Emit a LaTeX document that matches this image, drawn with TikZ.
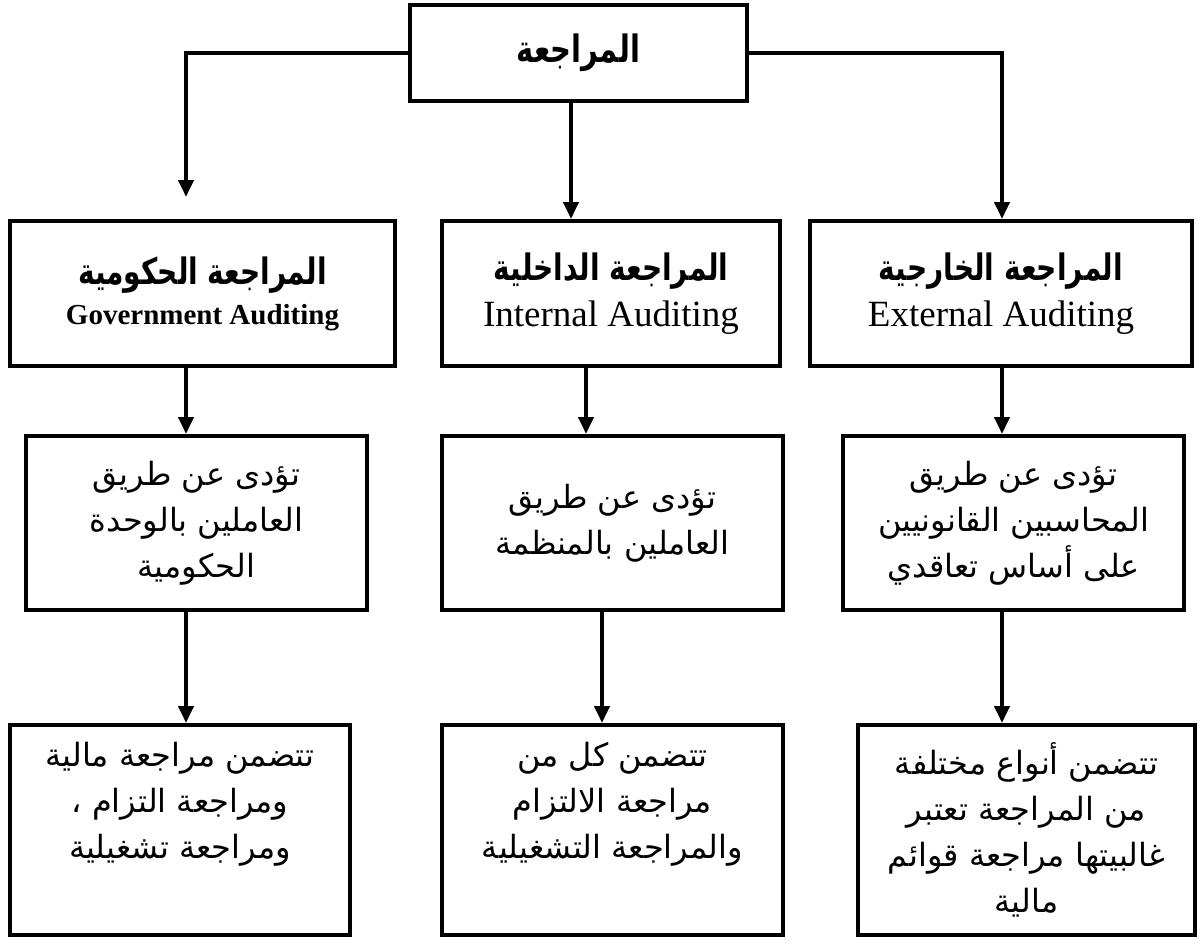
\documentclass[tikz,border=0pt]{standalone}
\usepackage{graphicx}
\usepackage{fontspec}
\setmainfont{Liberation Serif}
\newfontfamily\arabicfont[Script=Arabic]{DejaVu Sans}
\TeXXeTstate=1
\usetikzlibrary{arrows.meta}
% one right-to-left Arabic line
\newcommand{\ar}[1]{{\arabicfont\beginR #1\endR}}
% tall bold Arabic heading
\newcommand{\arhead}[1]{\scalebox{1}[1.3]{\bfseries\ar{#1}}}

\begin{document}
\begin{tikzpicture}[x=1pt,y=-1pt,
  box/.style={draw, line width=4pt, inner sep=0pt, align=center},
  body/.style={font=\fontsize{32}{46}\selectfont},
  conn/.style={line width=4pt, -{Triangle[width=15pt,length=17pt]}}]
\useasboundingbox (0,0) rectangle (1200,945);

% root
\node[box, minimum width=337pt, minimum height=96pt,
      font=\fontsize{29}{34}\selectfont] (root) at (578.5,53) {\arhead{المراجعة}};

% kinds of auditing
\node[box, minimum width=385pt, minimum height=145pt] (gov) at (202.5,293.5)
  {{\fontsize{28}{34}\selectfont\arhead{المراجعة الحكومية}}\\[10pt]
   {\fontsize{29}{34}\selectfont\bfseries Government Auditing}};
\node[box, minimum width=338pt, minimum height=145pt] (int) at (611,293.5)
  {{\fontsize{28}{34}\selectfont\arhead{المراجعة الداخلية}}\\[10pt]
   {\fontsize{37}{40}\selectfont Internal Auditing}};
\node[box, minimum width=382pt, minimum height=145pt] (ext) at (1001,293.5)
  {{\fontsize{28}{34}\selectfont\arhead{المراجعة الخارجية}}\\[10pt]
   {\fontsize{37}{40}\selectfont External Auditing}};

% who performs it
\node[box, body, minimum width=341pt, minimum height=174pt] (govby) at (196.5,523)
  {\ar{تؤدى عن طريق}\\\ar{العاملين بالوحدة}\\\ar{الحكومية}};
\node[box, body, minimum width=341pt, minimum height=174pt] (intby) at (612.5,523)
  {\ar{تؤدى عن طريق}\\\ar{العاملين بالمنظمة}};
\node[box, body, minimum width=341pt, minimum height=174pt] (extby) at (1013.5,523)
  {\ar{تؤدى عن طريق}\\\ar{المحاسبين القانونيين}\\\ar{على أساس تعاقدي}};

% what it covers
\node[box, body, minimum width=340pt, minimum height=210pt] (govinc) at (180,830)
  {\ar{تتضمن مراجعة مالية}\\\ar{ومراجعة التزام ،}\\\ar{ومراجعة تشغيلية}\\\strut};
\node[box, body, minimum width=341pt, minimum height=210pt] (intinc) at (612.5,830)
  {\ar{تتضمن كل من}\\\ar{مراجعة الالتزام}\\\ar{والمراجعة التشغيلية}\\\strut};
\node[box, body, minimum width=337pt, minimum height=210pt] (extinc) at (1026.5,830)
  {\ar{تتضمن أنواع مختلفة}\\\ar{من المراجعة تعتبر}\\\ar{غالبيتها مراجعة قوائم}\\\ar{مالية}};

% connector columns
\coordinate (cl) at (186,0);
\coordinate (cm) at (571,0);
\coordinate (cm2) at (586,0);
\coordinate (cm3) at (602,0);
\coordinate (cr) at (1002,0);
\coordinate (govtip) at (186,197);

\draw[conn] (root.west) -| (govtip);
\draw[conn] (cm |- root.south) -- (cm |- int.north);
\draw[conn] (root.east) -| (cr |- ext.north);

\draw[conn] (cl |- gov.south) -- (cl |- govby.north);
\draw[conn] (cm2 |- int.south) -- (cm2 |- intby.north);
\draw[conn] (cr |- ext.south) -- (cr |- extby.north);

\draw[conn] (cl |- govby.south) -- (cl |- govinc.north);
\draw[conn] (cm3 |- intby.south) -- (cm3 |- intinc.north);
\draw[conn] (cr |- extby.south) -- (cr |- extinc.north);
\end{tikzpicture}
\end{document}
